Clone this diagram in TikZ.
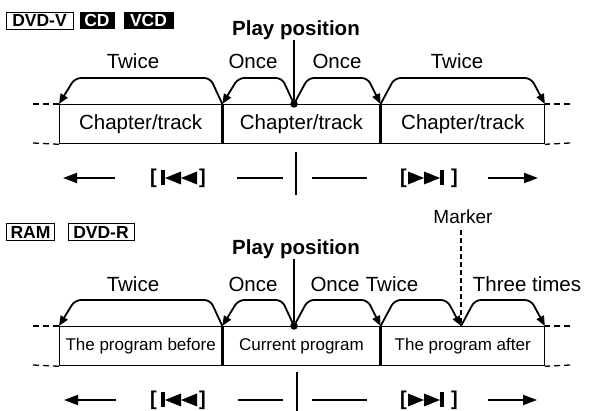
\documentclass[tikz,border=0pt]{standalone}
\usepackage{fontspec}
\setmainfont{Liberation Sans}
\usetikzlibrary{arrows.meta,positioning,calc}

\tikzset{
  prevskip/.pic={
    \fill (-18,-7.5) rectangle (-14,7.5);
    \fill (-14,0) -- (2,-6.5) -- (2,6.5) -- cycle;
    \fill (2,0) -- (18,-6.5) -- (18,6.5) -- cycle;
  },
  nextskip/.pic={
    \fill (-19,-6.5) -- (-3,0) -- (-19,6.5) -- cycle;
    \fill (-3,-6.5) -- (13,0) -- (-3,6.5) -- cycle;
    \fill (13,-7.5) rectangle (17,7.5);
  }
}

\begin{document}
\begin{tikzpicture}[
    x=1pt, y=-1pt,
    every node/.style={font=\fontsize{20.5}{24}\selectfont, inner sep=0pt},
    boxnode/.style={rectangle, draw, line width=1.3pt, minimum height=39pt, anchor=north west, align=center},
    tagnode/.style={rectangle, draw, line width=0.9pt, minimum height=17pt, font=\fontsize{17.5}{18}\selectfont\bfseries},
    darktag/.style={rectangle, fill=black, text=white, minimum height=17pt, font=\fontsize{17.5}{18}\selectfont\bfseries},
    headnode/.style={font=\fontsize{20.5}{24}\selectfont\bfseries},
    dotnode/.style={circle, fill, minimum size=7.5pt},
    brack/.style={font=\fontsize{20}{24}\selectfont\bfseries},
    hop/.style={-{Triangle[length=10pt,width=8pt]}, line width=1.8pt, rounded corners=6pt},
    rail/.style={line width=1.3pt, dash pattern=on 6pt off 4pt},
    playline/.style={line width=1.4pt},
    runarrow/.style={-{Triangle[length=14pt,width=10pt]}, line width=2pt},
    stubline/.style={line width=1.8pt},
    markline/.style={line width=1.8pt, dash pattern=on 5pt off 3pt}
]
    \useasboundingbox (0,0) rectangle (590,411);

    % DVD-V, CD, VCD
    \node[tagnode, minimum width=67pt] (dvdv) at (39.5,20.5) {DVD-V};
    \node[darktag, minimum width=35pt] (cd) at (97,20.5) {CD};
    \node[darktag, minimum width=50pt] (vcd) at (148.5,20.5) {VCD};

    \node[headnode] (play1) at (296,30) {Play position};
    \node[boxnode, minimum width=162pt] (trk1) at (59,104) {Chapter/track};
    \node[boxnode, minimum width=157pt] (trk2) at (trk1.north east) {Chapter/track};
    \node[boxnode, minimum width=163pt] (trk3) at (trk2.north east) {Chapter/track};

    \coordinate (r1a) at (33,104);
    \coordinate (r1b) at (33,143);
    \coordinate (r1c) at (570,104);
    \coordinate (r1d) at (570,143);
    \draw[rail] (r1a) -- (trk1.north west);
    \draw[rail] (r1b) -- (trk1.south west);
    \draw[rail] (r1c) -- (trk3.north east);
    \draw[rail] (r1d) -- (trk3.south east);

    \node (tw1) at (133,61) {Twice};
    \node (on1) at (253,61) {Once};
    \node (on2) at (337,61) {Once};
    \node (tw2) at (457,61) {Twice};

    \draw[hop] (trk2.north west) -- ++(-12,-26) -- ($(trk1.north west)+(16,-26)$) -- (trk1.north west);
    \draw[hop] (trk1.north west -| play1) ++(-2,0) coordinate (d1) -- ++(-12,-26) -- ($(trk2.north west)+(16,-26)$) -- (trk2.north west);
    \draw[hop] (d1) -- ++(14,-26) -- ($(trk2.north east)+(-13,-26)$) -- (trk2.north east);
    \draw[hop] (trk2.north east) -- ++(14,-26) -- ($(trk3.north east)+(-14,-26)$) -- (trk3.north east);
    \node[dotnode] (dot1) at (d1) {};
    \draw[playline] (play1.south -| dot1) -- (dot1);

    \coordinate (b1a) at (115,178);
    \coordinate (b1b) at (63,178);
    \coordinate (s1a) at (237,178);
    \coordinate (s1b) at (283,178);
    \coordinate (v1a) at (296,152);
    \coordinate (v1b) at (296,195);
    \coordinate (s1c) at (312,178);
    \coordinate (s1d) at (367,178);
    \coordinate (f1a) at (488,178);
    \coordinate (f1b) at (538,178);
    \draw[runarrow] (b1a) -- (b1b);
    \pic (prv1) at (179,178) {prevskip};
    \node[brack] (prv1l) at (153.5,178) {[};
    \node[brack] (prv1r) at (202.5,178) {]};
    \draw[stubline] (s1a) -- (s1b);
    \draw[playline] (v1a) -- (v1b);
    \draw[stubline] (s1c) -- (s1d);
    \pic (nxt1) at (427,178) {nextskip};
    \node[brack] (nxt1l) at (403.5,178) {[};
    \node[brack] (nxt1r) at (454.5,178) {]};
    \draw[runarrow] (f1a) -- (f1b);

    % RAM, DVD-R
    \node[tagnode, minimum width=48pt] (ram) at (30.5,232) {RAM};
    \node[tagnode, minimum width=66pt] (dvdr) at (101,232) {DVD-R};

    \node[headnode] (play2) at (296,249) {Play position};
    \node[font=\fontsize{19}{20}\selectfont] (mark) at (463,217) {Marker};
    \node[boxnode, minimum width=162pt, font=\fontsize{17}{20}\selectfont] (prg1) at (59,326) {The program before};
    \node[boxnode, minimum width=157pt, font=\fontsize{17}{20}\selectfont] (prg2) at (prg1.north east) {Current program};
    \node[boxnode, minimum width=163pt, font=\fontsize{17}{20}\selectfont] (prg3) at (prg2.north east) {The program after};

    \coordinate (r2a) at (33,326);
    \coordinate (r2b) at (33,365);
    \coordinate (r2c) at (570,326);
    \coordinate (r2d) at (570,365);
    \draw[rail] (r2a) -- (prg1.north west);
    \draw[rail] (r2b) -- (prg1.south west);
    \draw[rail] (r2c) -- (prg3.north east);
    \draw[rail] (r2d) -- (prg3.south east);

    \node (tw3) at (133,284) {Twice};
    \node (on3) at (253,284) {Once};
    \node (on4) at (335,284) {Once};
    \node (tw4) at (392,284) {Twice};
    \node (th1) at (527,284) {Three times};

    \coordinate (mk) at (461,326);
    \draw[markline, shorten <=6pt] (mark.south -| mk) -- (mk);
    \draw[hop] (prg2.north west) -- ++(-12,-26) -- ($(prg1.north west)+(16,-26)$) -- (prg1.north west);
    \draw[hop] (prg1.north west -| play2) ++(-2,0) coordinate (d2) -- ++(-12,-26) -- ($(prg2.north west)+(16,-26)$) -- (prg2.north west);
    \draw[hop] (d2) -- ++(14,-26) -- ($(prg2.north east)+(-13,-26)$) -- (prg2.north east);
    \draw[hop] (prg2.north east) -- ++(14,-26) -- ($(mk)+(-14,-26)$) -- (mk);
    \draw[hop] (mk) -- ++(14,-26) -- ($(prg3.north east)+(-14,-26)$) -- (prg3.north east);
    \node[dotnode] (dot2) at (d2) {};
    \draw[playline] (play2.south -| dot2) -- (dot2);

    \coordinate (b2a) at (116,400);
    \coordinate (b2b) at (64,400);
    \coordinate (s2a) at (238,400);
    \coordinate (s2b) at (283,400);
    \coordinate (v2a) at (297,372);
    \coordinate (v2b) at (297,411);
    \coordinate (s2c) at (312,400);
    \coordinate (s2d) at (367,400);
    \coordinate (f2a) at (488,400);
    \coordinate (f2b) at (537,400);
    \draw[runarrow] (b2a) -- (b2b);
    \pic (prv2) at (179,400) {prevskip};
    \node[brack] (prv2l) at (153.5,400) {[};
    \node[brack] (prv2r) at (202.5,400) {]};
    \draw[stubline] (s2a) -- (s2b);
    \draw[playline] (v2a) -- (v2b);
    \draw[stubline] (s2c) -- (s2d);
    \pic (nxt2) at (427,400) {nextskip};
    \node[brack] (nxt2l) at (403.5,400) {[};
    \node[brack] (nxt2r) at (454.5,400) {]};
    \draw[runarrow] (f2a) -- (f2b);

\end{tikzpicture}
\end{document}
